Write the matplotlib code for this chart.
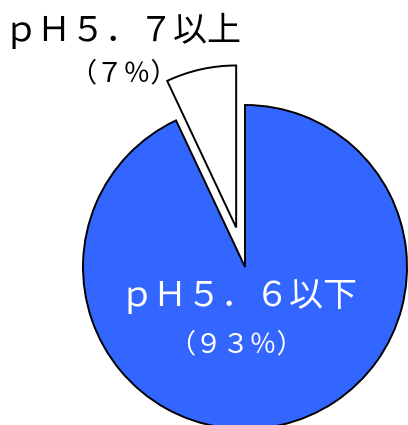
import matplotlib.pyplot as plt

plt.rcParams['font.family'] = ['Noto Sans CJK JP', 'DejaVu Sans']

# data
labels = ['ｐＨ５．７以上', 'ｐＨ５．６以下']
shares = [7, 93]
colors = ['white', '#3366ff']


def zen(n):
    # fullwidth digits, as in the original chart
    return ''.join(chr(ord(c) + 0xFEE0) for c in str(n))


fig = plt.figure(figsize=(4.08, 4.25), dpi=100)
ax = fig.add_axes([0, 0, 1, 1])

ax.pie(shares, colors=colors, startangle=90, counterclock=True,
       explode=[0.25, 0], radius=1,
       wedgeprops=dict(edgecolor='black', linewidth=1.4))

# pie centre sits at pixel (245, 267), radius 162 px
s = 162.0
ax.set_xlim(-245 / s, (408 - 245) / s)
ax.set_ylim(-(425 - 267) / s, 267 / s)
ax.set_aspect('equal')
ax.axis('off')

ax.text(-1.49, 1.46, labels[0], fontsize=24.5, color='black', ha='left', va='center')
ax.text(-0.75, 1.19, '（' + zen(shares[0]) + '％）', fontsize=19.5, color='black',
        ha='center', va='center')
ax.text(-0.04, -0.185, labels[1], fontsize=24.5, color='white', ha='center', va='center')
ax.text(-0.055, -0.48, '（' + zen(shares[1]) + '％）', fontsize=19.5, color='white',
        ha='center', va='center')

fig.savefig('out.png', dpi=100)
